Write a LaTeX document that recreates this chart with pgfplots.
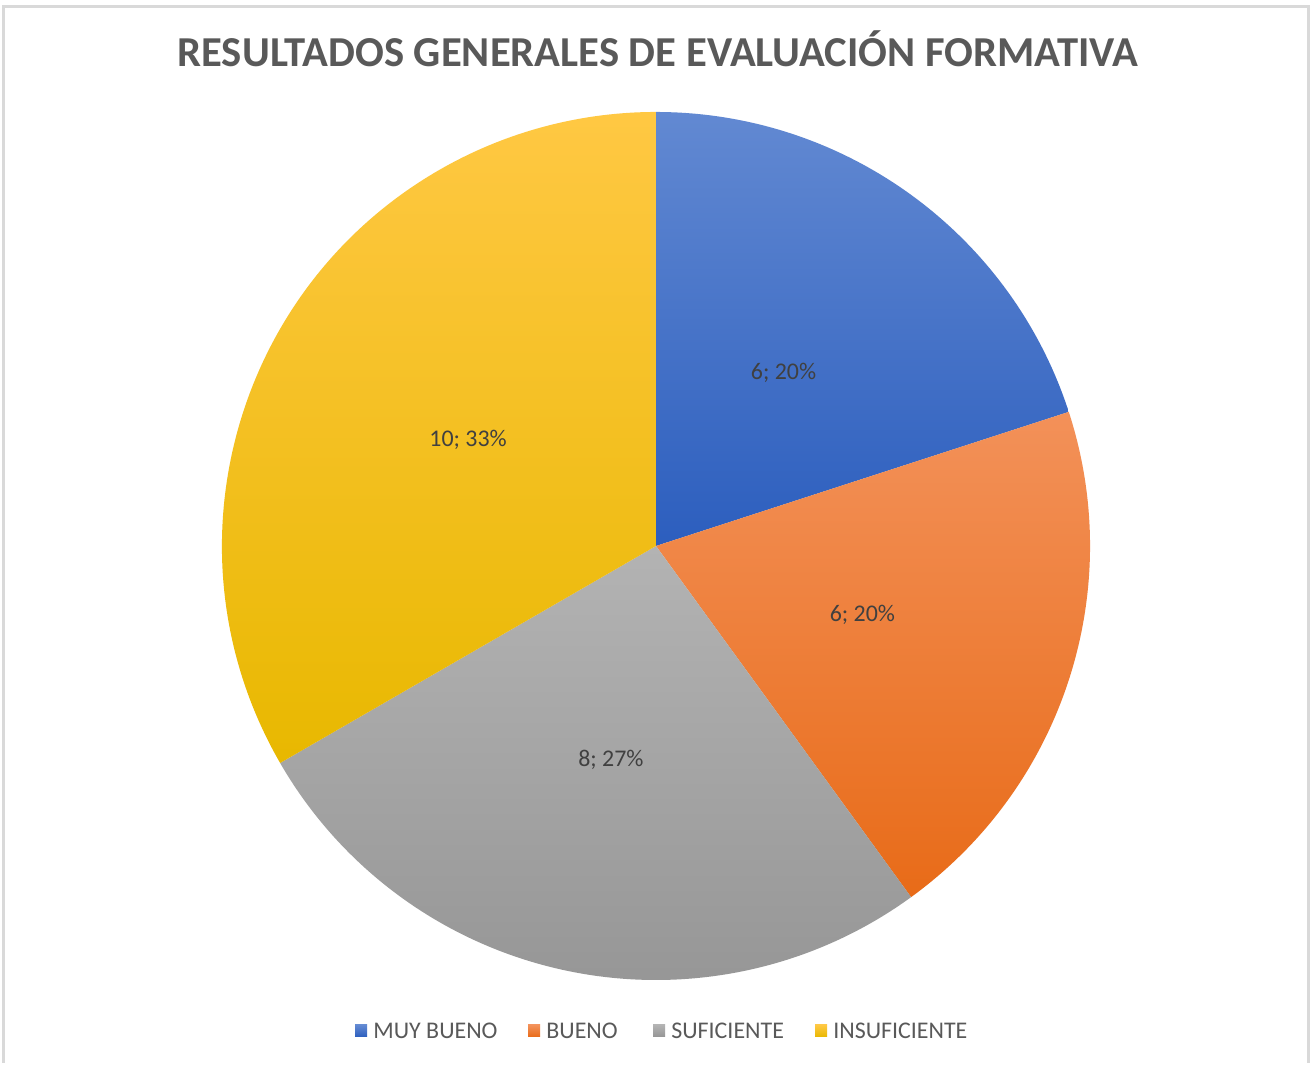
\documentclass[border=0pt]{standalone}
\usepackage{pgfplots}
\pgfplotsset{compat=1.18}
\usepackage{pgfplotstable}
\usepackage{fontspec}
\setmainfont{Carlito}
\definecolor{titlegray}{HTML}{595959}
\definecolor{labelgray}{HTML}{404040}
\definecolor{bordergray}{HTML}{D9D9D9}
\definecolor{pietop0}{HTML}{6289D2}
\definecolor{piebot0}{HTML}{2C5EBE}
\definecolor{pietop1}{HTML}{F39159}
\definecolor{piebot1}{HTML}{E86B18}
\definecolor{pietop2}{HTML}{B3B3B3}
\definecolor{piebot2}{HTML}{959595}
\definecolor{pietop3}{HTML}{FFC843}
\definecolor{piebot3}{HTML}{E8B800}

\pgfplotstableread{
label value
MUYBUENO 6
BUENO 6
SUFICIENTE 8
INSUFICIENTE 10
}\piedata

\begin{document}
\begin{tikzpicture}
\begin{axis}[
  x=0.5bp, y=0.5bp, scale only axis,
  xmin=0, xmax=1312, ymin=0, ymax=1063,
  hide axis, clip=false,
]
% background and frame
\fill[white] (axis cs:0,0) rectangle (axis cs:1312,1063);
\draw[bordergray, line width=1.5bp] (axis cs:3.5,0) -- (axis cs:3.5,1056.5) -- (axis cs:1308.5,1056.5) -- (axis cs:1308.5,0);
% title
\node[anchor=base, inner sep=0pt, font=\bfseries\fontsize{21.4}{25}\selectfont, text=titlegray] at (axis cs:658,996) {RESULTADOS GENERALES DE EVALUACIÓN FORMATIVA};
% pie
\def\pietotal{30}
\xdef\angstart{90}
\pgfplotsinvokeforeach{0,1,2,3}{
  \pgfplotstablegetelem{#1}{value}\of\piedata
  \let\val\pgfplotsretval
  \pgfmathsetmacro\angend{\angstart-360*\val/\pietotal}
  \pgfmathsetmacro\angmid{(\angstart+\angend)/2}
  \pgfmathsetmacro\sx{656+434*cos(\angstart)}
  \pgfmathsetmacro\sy{517+434*sin(\angstart)}
  \pgfmathsetmacro\lx{656+217*cos(\angmid)}
  \pgfmathsetmacro\ly{515+217*sin(\angmid)}
  \pgfmathtruncatemacro\pct{round(100*\val/\pietotal)}
  \edef\tmp{\noexpand\shade[top color=pietop#1, bottom color=piebot#1]
    (axis cs:656,517) -- (axis cs:\sx,\sy)
    arc[start angle=\angstart, end angle=\angend, radius=217bp] -- cycle;
    \noexpand\node[font=\noexpand\fontsize{12}{14}\noexpand\selectfont, text=labelgray]
    at (axis cs:\lx,\ly) {\val; \pct\noexpand\%};}
  \tmp
  \xdef\angstart{\angend}
}
% legend
\pgfplotsinvokeforeach{0/355/MUY BUENO,1/528/BUENO,2/653/SUFICIENTE,3/815/INSUFICIENTE}{
  \foreach \i/\xx/\txt in {#1}{
    \edef\tmp{\noexpand\shade[top color=pietop\i, bottom color=piebot\i]
      (axis cs:\xx,26) rectangle (axis cs:\xx+12,38);
      \noexpand\node[anchor=west, inner sep=0pt, font=\noexpand\fontsize{12}{14}\noexpand\selectfont, text=titlegray]
      at (axis cs:\xx+18,32) {\txt};}
    \tmp
  }
}
\end{axis}
\end{tikzpicture}
\end{document}
